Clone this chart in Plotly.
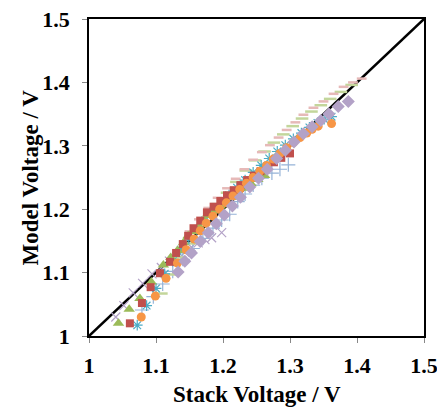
import plotly.graph_objects as go

# ---- data ----
tri_x = [1.044,1.060,1.076,1.093,1.111,1.122,1.132,1.141,1.148,1.156,1.164,1.172,1.180,1.188,1.196,1.205,1.214,1.223,1.232,1.242,1.252,1.262]
tri_y = [1.020,1.042,1.059,1.085,1.112,1.124,1.135,1.147,1.158,1.165,1.174,1.182,1.190,1.197,1.205,1.212,1.219,1.226,1.233,1.240,1.247,1.253]

sq_x = [1.061,1.079,1.092,1.106,1.121,1.130,1.140,1.148,1.156,1.166,1.176,1.186,1.196,1.206,1.216,1.226,1.236,1.246,1.256,1.266,1.276,1.287,1.300]
sq_y = [1.020,1.052,1.077,1.099,1.117,1.131,1.145,1.158,1.170,1.182,1.195,1.204,1.213,1.222,1.230,1.238,1.246,1.253,1.260,1.267,1.274,1.281,1.288]

ast_x = [1.072,1.086,1.100,1.113,1.125,1.137,1.149,1.161,1.173,1.185,1.197,1.209,1.221,1.233,1.245,1.257,1.269,1.281,1.293,1.305,1.317,1.329,1.341,1.351,1.362]
ast_y = [1.017,1.048,1.075,1.098,1.118,1.136,1.153,1.168,1.182,1.196,1.209,1.222,1.234,1.246,1.258,1.269,1.280,1.291,1.301,1.311,1.320,1.329,1.336,1.342,1.346]

circ_x = [1.078,1.099,1.115,1.132,1.145,1.157,1.166,1.175,1.185,1.195,1.205,1.215,1.225,1.235,1.245,1.255,1.265,1.275,1.285,1.295,1.305,1.315,1.325,1.333,1.342,1.362]
circ_y = [1.030,1.063,1.091,1.115,1.136,1.153,1.166,1.178,1.189,1.200,1.210,1.221,1.231,1.241,1.250,1.260,1.269,1.279,1.288,1.297,1.305,1.313,1.320,1.326,1.331,1.335]

dia_x = [1.133,1.143,1.153,1.166,1.178,1.190,1.202,1.214,1.226,1.240,1.253,1.266,1.280,1.293,1.306,1.320,1.333,1.346,1.358,1.372,1.387]
dia_y = [1.101,1.118,1.131,1.149,1.163,1.177,1.191,1.205,1.219,1.235,1.249,1.263,1.280,1.293,1.306,1.319,1.330,1.340,1.350,1.362,1.370]

plus_x = [1.079,1.096,1.110,1.125,1.140,1.155,1.170,1.185,1.198,1.210,1.222,1.233,1.245,1.258,1.273,1.285,1.2975]
plus_y = [1.041,1.062,1.082,1.102,1.121,1.138,1.154,1.170,1.183,1.192,1.212,1.224,1.238,1.249,1.257,1.263,1.270]

xm_x = [1.040,1.052,1.066,1.080,1.094,1.108,1.120,1.132,1.143,1.153,1.163,1.173,1.183,1.198]
xm_y = [1.030,1.048,1.068,1.083,1.098,1.108,1.118,1.128,1.132,1.140,1.147,1.152,1.155,1.163]

gdash_x = [1.108,1.122,1.136,1.150,1.164,1.178,1.192,1.206,1.220,1.234,1.248,1.262,1.276,1.290,1.304,1.318,1.332,1.346,1.360,1.376,1.392]
gdash_y = [1.067,1.097,1.124,1.146,1.167,1.188,1.208,1.226,1.243,1.261,1.277,1.291,1.305,1.318,1.331,1.343,1.354,1.364,1.374,1.385,1.396]

rdash_x = [1.150,1.164,1.178,1.192,1.206,1.219,1.232,1.245,1.258,1.270,1.283,1.295,1.308,1.320,1.335,1.350,1.365,1.380,1.394,1.407]
rdash_y = [1.165,1.184,1.202,1.218,1.233,1.248,1.263,1.278,1.290,1.301,1.313,1.325,1.337,1.349,1.360,1.370,1.382,1.393,1.400,1.406]

line_xy = [1.0, 1.5]
tick_vals = [1, 1.1, 1.2, 1.3, 1.4, 1.5]
tick_text = ["1", "1.1", "1.2", "1.3", "1.4", "1.5"]

font = "Liberation Serif, Times New Roman, serif"

fig = go.Figure()
fig.add_trace(go.Scatter(x=line_xy, y=line_xy, mode="lines", line=dict(color="black", width=2.5), hoverinfo="skip"))

def add(x, y, symbol, color, size, lw=None):
    m = dict(symbol=symbol, color=color, size=size)
    if lw is not None:
        m["line"] = dict(color=color, width=lw)
    else:
        m["line"] = dict(width=0)
    fig.add_trace(go.Scatter(x=x, y=y, mode="markers", marker=m))

add(xm_x, xm_y, "x-thin-open", "#B3A2C7", 9, 1.2)
add(plus_x, plus_y, "cross-thin-open", "#95B3D7", 10, 1.2)
add(gdash_x, gdash_y, "line-ew-open", "#C3D69B", 9, 2.5)
add(rdash_x, rdash_y, "line-ew-open", "#E6B9B8", 7, 2.5)
add(ast_x, ast_y, "asterisk-open", "#4BACC6", 9, 1.2)
add(tri_x, tri_y, "triangle-up", "#9BBB59", 10)
add(sq_x, sq_y, "square", "#C0504D", 8)
add(circ_x, circ_y, "circle", "#F79646", 9)
add(dia_x, dia_y, "diamond", "#B3A2C7", 10)

axis_common = dict(
    range=[1, 1.5], tickvals=tick_vals, ticktext=tick_text,
    showgrid=False, zeroline=False, showline=True, linecolor="black", linewidth=1.5,
    mirror=True, ticks="outside", ticklen=5, tickcolor="#888888", automargin=False,
    ticklabeloverflow="allow",
    tickfont=dict(family=font, size=22, color="black", weight="bold"),
)
title_font = dict(family=font, size=23, color="black", weight="bold")
# page body adds an 8px offset, so the figure is 8px smaller and margins shifted
fig.update_layout(
    width=437, height=400, margin=dict(l=81, r=21, t=11, b=72),
    paper_bgcolor="white", plot_bgcolor="white", showlegend=False,
    xaxis=dict(**axis_common, ticklabelstandoff=4),
    yaxis=dict(**axis_common, ticklabelstandoff=8),
    annotations=[
        dict(text="Stack Voltage / V", xref="paper", yref="paper", x=0.5, y=0, yshift=-58,
             xanchor="center", yanchor="middle", showarrow=False, font=title_font),
        dict(text="Model Voltage / V", xref="paper", yref="paper", x=0, y=0.5, xshift=-59,
             xanchor="center", yanchor="middle", showarrow=False, font=title_font, textangle=-90),
    ],
)
fig.write_html("out.html")
